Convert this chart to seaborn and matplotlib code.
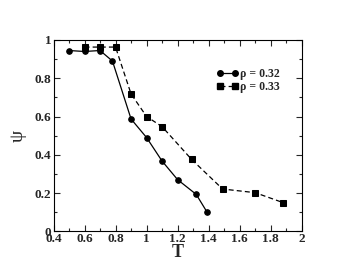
import matplotlib
matplotlib.use("Agg")
import matplotlib.pyplot as plt
import seaborn as sns
import pandas as pd
from matplotlib.lines import Line2D
from matplotlib.ticker import MultipleLocator

sns.set_theme(style="white")
plt.rcParams['font.family'] = ['Liberation Serif', 'DejaVu Serif']

T_032 = [0.5, 0.6, 0.7, 0.78, 0.9, 1.0, 1.1, 1.2, 1.32, 1.39]
psi_032 = [0.945, 0.94, 0.945, 0.89, 0.587, 0.49, 0.367, 0.27, 0.193, 0.10]
T_033 = [0.6, 0.7, 0.8, 0.9, 1.0, 1.1, 1.29, 1.49, 1.70, 1.88]
psi_033 = [0.963, 0.963, 0.963, 0.718, 0.60, 0.547, 0.376, 0.221, 0.202, 0.15]
labels = ["ρ = 0.32", "ρ = 0.33"]

df = pd.concat([
    pd.DataFrame({"T": T_032, "psi": psi_032, "series": labels[0]}),
    pd.DataFrame({"T": T_033, "psi": psi_033, "series": labels[1]}),
])

fig = plt.figure(figsize=(3.53, 2.73), dpi=100)
ax = fig.add_axes([53.5/353, 1-231.3/273, (301.7-53.5)/353, (231.3-40)/273])

markers = ["o", "s"]
dashes = [(1, 0), (4, 2.5)]
sns.lineplot(data=df, x="T", y="psi", hue="series", style="series",
             palette=["black", "black"], markers=markers,
             dashes=dashes, markersize=4, linewidth=0.9,
             markeredgecolor="black", sort=False, ax=ax, legend=False)

ax.set_xlim(0.4, 2.0)
ax.set_ylim(0, 1.0)
ax.xaxis.set_major_locator(MultipleLocator(0.2))
ax.xaxis.set_minor_locator(MultipleLocator(0.1))
ax.yaxis.set_major_locator(MultipleLocator(0.2))
ax.yaxis.set_minor_locator(MultipleLocator(0.1))
ax.tick_params(which="both", direction="in", top=True, right=True,
               bottom=True, left=True, labelsize=9.5, pad=1.5)
ax.tick_params(which="major", length=4, width=0.8)
ax.tick_params(which="minor", length=2, width=0.8)
ax.set_xticklabels([f"{v:g}" for v in ax.get_xticks()], fontweight="bold")
ax.set_yticklabels([f"{v:g}" for v in ax.get_yticks()], fontweight="bold")
for s in ax.spines.values():
    s.set_color("black")
    s.set_linewidth(0.8)

ax.set_xlabel("T", fontsize=13, fontweight="bold", labelpad=-1)
ax.set_ylabel("ψ", fontsize=14, labelpad=6)

handles = [Line2D([], [], color="black", marker=m, markersize=4, linewidth=0.9,
                  linestyle=(0, d) if d != (1, 0) else "-")
           for m, d in zip(markers, dashes)]
leg = ax.legend(handles, labels, loc="upper right", bbox_to_anchor=(0.93, 0.88),
                frameon=False, fontsize=8.5, handlelength=1.9, handletextpad=0.1,
                labelspacing=0.15, numpoints=2, borderaxespad=0)
for t in leg.get_texts():
    t.set_fontweight("bold")

fig.savefig("out.png", dpi=100)
